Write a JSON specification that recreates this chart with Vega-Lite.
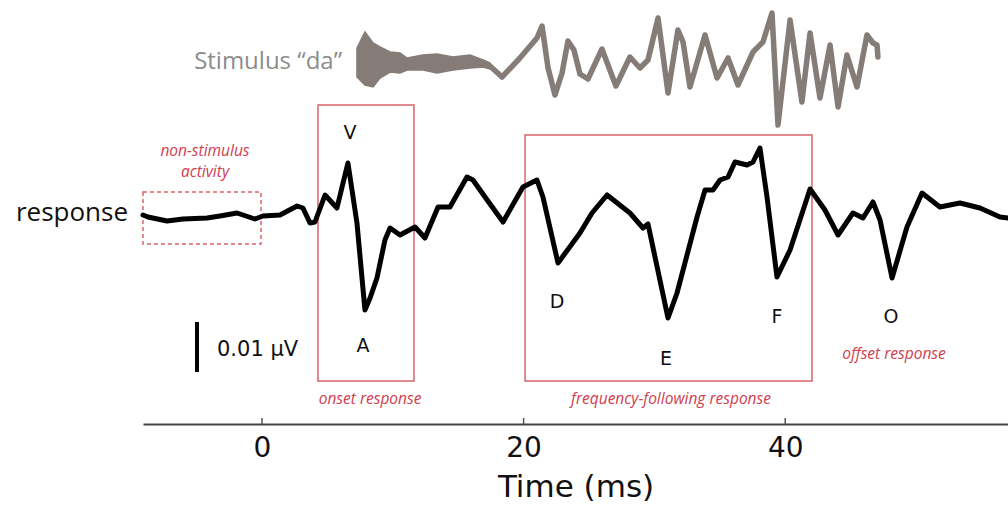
{
  "$schema": "https://vega.github.io/schema/vega-lite/v6.json",
  "width": 865,
  "height": 424,
  "padding": {"left": 143, "top": 0, "right": 0, "bottom": 83},
  "autosize": {"type": "none"},
  "background": "white",
  "config": {"view": {"stroke": null}},
  "datasets": {
    "response": [
      {"t": -9.10, "uV": 0}, {"t": -8.72, "uV": -0.0004}, {"t": -7.26, "uV": -0.0012}, {"t": -6.04, "uV": -0.0008},
      {"t": -4.20, "uV": -0.0006}, {"t": -3.21, "uV": -0.0002}, {"t": -1.91, "uV": 0.0004}, {"t": -0.54, "uV": -0.0008},
      {"t": 0.08, "uV": -0.0002}, {"t": 1.38, "uV": 0}, {"t": 2.68, "uV": 0.0018}, {"t": 3.13, "uV": 0.0014},
      {"t": 3.67, "uV": -0.0016}, {"t": 4.05, "uV": -0.0014}, {"t": 4.82, "uV": 0.0040}, {"t": 5.73, "uV": 0.0014},
      {"t": 6.57, "uV": 0.0104}, {"t": 7.26, "uV": -0.0016}, {"t": 7.87, "uV": -0.0190}, {"t": 8.26, "uV": -0.0166},
      {"t": 8.79, "uV": -0.0126}, {"t": 9.40, "uV": -0.0050}, {"t": 9.79, "uV": -0.0026}, {"t": 10.55, "uV": -0.0040},
      {"t": 11.70, "uV": -0.0024}, {"t": 12.46, "uV": -0.0046}, {"t": 13.46, "uV": 0.0016}, {"t": 14.37, "uV": 0.0016},
      {"t": 15.67, "uV": 0.0076}, {"t": 16.13, "uV": 0.0070}, {"t": 17.05, "uV": 0.0036}, {"t": 18.43, "uV": -0.0014},
      {"t": 19.95, "uV": 0.0056}, {"t": 21.02, "uV": 0.0070}, {"t": 21.48, "uV": 0.0036}, {"t": 22.63, "uV": -0.0096},
      {"t": 24.31, "uV": -0.0036}, {"t": 25.23, "uV": 0.0004}, {"t": 26.38, "uV": 0.0040}, {"t": 28.13, "uV": 0.0004},
      {"t": 29.13, "uV": -0.0026}, {"t": 29.51, "uV": -0.0018}, {"t": 31.04, "uV": -0.0206}, {"t": 31.73, "uV": -0.0156},
      {"t": 33.26, "uV": -0.0004}, {"t": 33.87, "uV": 0.0050}, {"t": 34.48, "uV": 0.0050}, {"t": 35.02, "uV": 0.0070},
      {"t": 35.63, "uV": 0.0076}, {"t": 36.16, "uV": 0.0106}, {"t": 37.08, "uV": 0.0100}, {"t": 37.54, "uV": 0.0106},
      {"t": 38.07, "uV": 0.0134}, {"t": 38.61, "uV": 0.0036}, {"t": 39.37, "uV": -0.0124}, {"t": 40.37, "uV": -0.0070},
      {"t": 41.90, "uV": 0.0052}, {"t": 43.04, "uV": 0.0010}, {"t": 44.04, "uV": -0.0040}, {"t": 45.18, "uV": 0.0004},
      {"t": 45.95, "uV": -0.0006}, {"t": 46.71, "uV": 0.0026}, {"t": 47.25, "uV": -0.0010}, {"t": 48.17, "uV": -0.0126},
      {"t": 49.31, "uV": -0.0024}, {"t": 50.46, "uV": 0.0044}, {"t": 51.83, "uV": 0.0016}, {"t": 53.36, "uV": 0.0024},
      {"t": 54.89, "uV": 0.0014}, {"t": 56.42, "uV": -0.0004}, {"t": 57.03, "uV": -0.0006}
    ],
    "burst": [
      {"t": 7.26, "top": 0.2333, "bot": -0.25}, {"t": 7.87, "top": 0.5, "bot": -0.3833},
      {"t": 8.49, "top": 0.3167, "bot": -0.4167}, {"t": 9.02, "top": 0.25, "bot": -0.2667},
      {"t": 9.79, "top": 0.1667, "bot": -0.1667}, {"t": 10.55, "top": 0.15, "bot": -0.1833},
      {"t": 11.09, "top": 0.0667, "bot": -0.1333}, {"t": 12.31, "top": 0.1167, "bot": -0.1333},
      {"t": 13.38, "top": 0.1333, "bot": -0.1833}, {"t": 14.60, "top": 0.0833, "bot": -0.1333},
      {"t": 15.90, "top": 0.1167, "bot": -0.1}, {"t": 16.90, "top": 0.0333, "bot": -0.0833},
      {"t": 17.43, "top": -0.0167, "bot": -0.1167}
    ],
    "stimulus": [
      {"t": 16.90, "s": -0.0333}, {"t": 17.43, "s": -0.0667}, {"t": 18.35, "s": -0.25}, {"t": 19.72, "s": 0.0667},
      {"t": 21.02, "s": 0.4}, {"t": 21.41, "s": 0.6}, {"t": 21.87, "s": -0.1}, {"t": 22.40, "s": -0.55},
      {"t": 22.94, "s": -0.1833}, {"t": 23.39, "s": 0.35}, {"t": 23.85, "s": 0.2}, {"t": 24.31, "s": -0.2},
      {"t": 24.92, "s": -0.2833}, {"t": 25.99, "s": 0.2167}, {"t": 27.06, "s": -0.4}, {"t": 28.13, "s": 0.0833},
      {"t": 28.90, "s": -0.1}, {"t": 29.51, "s": 0.0333}, {"t": 30.28, "s": 0.7333}, {"t": 31.04, "s": -0.5167},
      {"t": 31.80, "s": 0.5333}, {"t": 32.19, "s": 0.3333}, {"t": 32.72, "s": -0.4167}, {"t": 33.87, "s": 0.45},
      {"t": 34.79, "s": -0.2667}, {"t": 35.63, "s": 0.0667}, {"t": 36.39, "s": -0.3833}, {"t": 37.54, "s": 0.1667},
      {"t": 38.30, "s": 0.3333}, {"t": 38.99, "s": 0.8167}, {"t": 39.45, "s": -1.05}, {"t": 40.37, "s": 0.7},
      {"t": 41.28, "s": -0.6667}, {"t": 41.90, "s": 0.4833}, {"t": 42.66, "s": -0.6}, {"t": 43.43, "s": 0.2833},
      {"t": 44.04, "s": -0.75}, {"t": 44.72, "s": 0.1167}, {"t": 45.49, "s": -0.4167}, {"t": 46.25, "s": 0.45},
      {"t": 46.71, "s": 0.3167}, {"t": 47.02, "s": 0.2833}, {"t": 47.09, "s": 0.0833}
    ],
    "boxes": [
      {"name": "non-stimulus activity", "t": -9.10, "t2": -0.08, "uV": 0.0046, "uV2": -0.0058, "dashed": true},
      {"name": "onset response", "t": 4.28, "t2": 11.62, "uV": 0.022, "uV2": -0.0332, "dashed": false},
      {"name": "frequency-following response", "t": 20.11, "t2": 42.05, "uV": 0.016, "uV2": -0.0332, "dashed": false}
    ],
    "tickmarks": [{"t": 0, "uV": -0.0418, "uV2": -0.0406}, {"t": 20, "uV": -0.0418, "uV2": -0.0406}, {"t": 40, "uV": -0.0418, "uV2": -0.0406}],
    "peaks": [
      {"text": "V", "t": 6.73, "uV": 0.0164}, {"text": "A", "t": 7.72, "uV": -0.0262},
      {"text": "D", "t": 22.55, "uV": -0.0174}, {"text": "E", "t": 30.89, "uV": -0.0288},
      {"text": "F", "t": 39.37, "uV": -0.0204}, {"text": "O", "t": 48.09, "uV": -0.0204}
    ],
    "regions": [
      {"text": "non-stimulus", "t": -4.36, "uV": 0.0128}, {"text": "activity", "t": -4.36, "uV": 0.0086},
      {"text": "onset response", "t": 8.26, "uV": -0.0368},
      {"text": "frequency-following response", "t": 31.27, "uV": -0.0368},
      {"text": "offset response", "t": 48.32, "uV": -0.0278}
    ],
    "scalebar": [{"t": -4.97, "uV": -0.0214, "uV2": -0.0314, "text": "0.01 µV", "tt": -3.44, "ut": -0.027}]
  },
  "encoding": {
    "x": {
      "field": "t", "type": "quantitative",
      "scale": {"domain": [-9.098, 57.034], "nice": false, "zero": false},
      "axis": {
        "title": "Time (ms)", "values": [0, 20, 40], "grid": false,
        "domainColor": "#444", "domainWidth": 2, "ticks": false,
        "labelFont": "DejaVu Sans", "labelFontSize": 28, "labelColor": "#111", "labelPadding": 10, "labelFlush": false,
        "titleFont": "DejaVu Sans", "titleFontSize": 31, "titleFontWeight": "normal", "titleColor": "#111", "titlePadding": 10
      }
    }
  },
  "resolve": {"scale": {"y": "independent"}},
  "layer": [
    {
      "encoding": {"y": {"field": "uV", "type": "quantitative", "scale": {"domain": [-0.0418, 0.043], "nice": false, "zero": false}, "axis": null}},
      "layer": [
        {"data": {"name": "boxes"}, "transform": [{"filter": "datum.dashed"}],
         "mark": {"type": "rect", "fill": null, "fillOpacity": 0, "stroke": "#d9646a", "strokeWidth": 1.5, "strokeDash": [4, 3]},
         "encoding": {"x2": {"field": "t2"}, "y2": {"field": "uV2"}}},
        {"data": {"name": "boxes"}, "transform": [{"filter": "!datum.dashed"}],
         "mark": {"type": "rect", "fill": null, "fillOpacity": 0, "stroke": "#d9646a", "strokeWidth": 1.5},
         "encoding": {"x2": {"field": "t2"}, "y2": {"field": "uV2"}}},
        {"data": {"name": "response"},
         "mark": {"type": "line", "color": "#000000", "strokeWidth": 5, "strokeJoin": "round", "strokeCap": "round"}},
        {"data": {"name": "scalebar"},
         "mark": {"type": "rule", "color": "#000000", "strokeWidth": 4},
         "encoding": {"y2": {"field": "uV2"}}},
        {"data": {"name": "tickmarks"},
         "mark": {"type": "rule", "color": "#555555", "strokeWidth": 1.5},
         "encoding": {"y2": {"field": "uV2"}}},
        {"data": {"name": "scalebar"},
         "mark": {"type": "text", "align": "left", "baseline": "middle", "font": "DejaVu Sans", "fontSize": 21, "color": "#111"},
         "encoding": {"x": {"field": "tt", "type": "quantitative"}, "y": {"field": "ut", "type": "quantitative"}, "text": {"field": "text"}}},
        {"data": {"name": "peaks"},
         "mark": {"type": "text", "align": "center", "baseline": "middle", "font": "DejaVu Sans", "fontSize": 19, "color": "#111"},
         "encoding": {"text": {"field": "text"}}},
        {"data": {"name": "regions"},
         "mark": {"type": "text", "align": "center", "baseline": "middle", "font": "Open Sans", "fontStyle": "italic", "fontSize": 15.5, "color": "#d0404f"},
         "encoding": {"text": {"field": "text"}}},
        {"data": {"values": [{"text": "response", "t": -10.24, "uV": 0.0004}, {"text": "Stimulus \u201cda\u201d", "t": 6.12, "uV": 0.0306}]},
         "mark": {"type": "text", "align": "right", "baseline": "middle", "font": "Open Sans"},
         "encoding": {"text": {"field": "text"},
                      "color": {"field": "text", "type": "nominal", "scale": {"domain": ["response", "Stimulus \u201cda\u201d"], "range": ["#111111", "#8c8c8c"]}, "legend": null},
                      "size": {"field": "text", "type": "nominal", "scale": {"domain": ["response", "Stimulus \u201cda\u201d"], "range": [26, 24]}, "legend": null}}}
      ]
    },
    {
      "encoding": {"y": {"field": "s", "type": "quantitative", "scale": {"domain": [-6.0333, 1.0333], "nice": false, "zero": false}, "axis": null}},
      "layer": [
        {"data": {"name": "burst"},
         "mark": {"type": "area", "color": "#857c78", "stroke": "#857c78", "strokeWidth": 1.5},
         "encoding": {"y": {"field": "top", "type": "quantitative"}, "y2": {"field": "bot"}}},
        {"data": {"name": "stimulus"},
         "mark": {"type": "line", "color": "#857c78", "strokeWidth": 5.5, "strokeJoin": "round", "strokeCap": "round"}}
      ]
    }
  ]
}
